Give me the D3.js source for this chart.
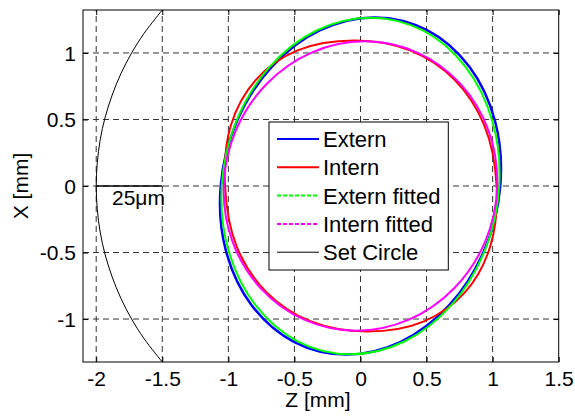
<!DOCTYPE html>
<html><head><meta charset="utf-8">
<script src="https://cdn.jsdelivr.net/npm/d3@7"></script>
<style>
html,body{margin:0;padding:0;background:#fff;}
text{font-family:"Liberation Sans",Arial,sans-serif;}
</style></head>
<body><svg id="c" width="575" height="418"></svg>
<script>
// ---- data ----
const xTicks = [-2, -1.5, -1, -0.5, 0, 0.5, 1, 1.5];
const xTickLabels = ["-2", "-1.5", "-1", "-0.5", "0", "0.5", "1", "1.5"];
const yTicks = [-1, -0.5, 0, 0.5, 1];
const yTickLabels = ["-1", "-0.5", "0", "0.5", "1"];
const seriesNames = ["Extern", "Intern", "Extern fitted", "Intern fitted", "Set Circle"];
// [Z, X] points
const externPts = [[1.058,0],[1.019,0.485],[0.824,0.896],[0.504,1.171],[0.108,1.267],[-0.305,1.171],[-0.672,0.896],[-0.936,0.485],[-1.058,0],[-1.019,-0.485],[-0.824,-0.896],[-0.504,-1.171],[-0.108,-1.267],[0.305,-1.171],[0.672,-0.896],[0.936,-0.485]];
const internPts = [[1.03,0],[0.936,0.457],[0.712,0.798],[0.379,1.017],[-0.04,1.093],[-0.481,1.017],[-0.792,0.798],[-0.981,0.457],[-1.025,0],[-0.936,-0.457],[-0.712,-0.798],[-0.379,-1.017],[0.05,-1.093],[0.481,-1.017],[0.792,-0.798],[0.981,-0.457]];
const externFitPts = [[1.05,0],[0.999,0.484],[0.796,0.894],[0.472,1.169],[0.076,1.265],[-0.332,1.169],[-0.689,0.894],[-0.941,0.484],[-1.05,0],[-0.999,-0.484],[-0.796,-0.894],[-0.472,-1.169],[-0.076,-1.265],[0.332,-1.169],[0.689,-0.894],[0.941,-0.484]];
const internFitPts = [[1.035,0],[0.969,0.416],[0.755,0.769],[0.426,1.005],[0.033,1.088],[-0.366,1.005],[-0.709,0.769],[-0.944,0.416],[-1.035,0],[-0.969,-0.416],[-0.755,-0.769],[-0.426,-1.005],[-0.033,-1.088],[0.366,-1.005],[0.709,-0.769],[0.944,-0.416]];
const setCirclePts = [[-1.5,1.323],[-1.638,1.147],[-1.732,1.0],[-1.813,0.845],[-1.879,0.684],[-1.932,0.518],[-1.970,0.347],[-1.992,0.174],[-2,0],[-1.992,-0.174],[-1.970,-0.347],[-1.932,-0.518],[-1.879,-0.684],[-1.813,-0.845],[-1.732,-1.0],[-1.638,-1.147],[-1.5,-1.323]];
const scaleBar = [[-2,0],[-1.5,0]];
const scaleLabel = "25\u03bcm";

// ---- layout ----
const L = 83, R = 558.7, T = 10, B = 362;
const svg = d3.select("#c");
const x = d3.scaleLinear().domain([-2.1, 1.5]).range([L, R]);
const y = d3.scaleLinear().domain([-1.3229, 1.3229]).range([B, T]);

svg.append("defs").append("clipPath").attr("id","clip")
  .append("rect").attr("x",L).attr("y",T).attr("width",R-L).attr("height",B-T);

// grid
const grid = svg.append("g").attr("stroke","#333").attr("stroke-width",1).attr("stroke-dasharray","6,4");
grid.selectAll("line.vx").data(xTicks.filter(d=>d>-2.1 && d<1.5)).enter().append("line")
  .attr("x1",d=>x(d)).attr("x2",d=>x(d)).attr("y1",B).attr("y2",T);
grid.selectAll("line.hy").data(yTicks).enter().append("line")
  .attr("y1",d=>y(d)).attr("y2",d=>y(d)).attr("x1",L).attr("x2",R);

// axes (ticks inward)
const fs = 21;
const ax = svg.append("g").attr("transform",`translate(0,${B})`)
  .call(d3.axisBottom(x).tickValues(xTicks).tickSize(-5).tickPadding(9).tickFormat((d,i)=>xTickLabels[i]));
const axT = svg.append("g").attr("transform",`translate(0,${T})`)
  .call(d3.axisTop(x).tickValues(xTicks).tickSize(-5).tickFormat(""));
const ay = svg.append("g").attr("transform",`translate(${L},0)`)
  .call(d3.axisLeft(y).tickValues(yTicks).tickSize(-5).tickPadding(7).tickFormat((d,i)=>yTickLabels[i]));
const ayR = svg.append("g").attr("transform",`translate(${R},0)`)
  .call(d3.axisRight(y).tickValues(yTicks).tickSize(-5).tickFormat(""));
[ax,axT,ay,ayR].forEach(g=>{
  g.select(".domain").remove();
  g.selectAll(".tick line").attr("stroke","#000");
  g.selectAll("text").attr("font-size",fs).attr("fill","#000").style("font-family","'Liberation Sans',Arial,sans-serif");
});
ay.selectAll("text").attr("dy","0.35em");

// curves
const line = d3.line().x(d=>x(d[0])).y(d=>y(d[1]));
const closed = d3.line().x(d=>x(d[0])).y(d=>y(d[1])).curve(d3.curveCatmullRomClosed.alpha(0.5));
const plot = svg.append("g").attr("clip-path","url(#clip)").attr("fill","none");
plot.append("path").attr("d",closed(externPts)).attr("stroke","#0000ff").attr("stroke-width",2.5);
plot.append("path").attr("d",closed(internPts)).attr("stroke","#ff0000").attr("stroke-width",2);
plot.append("path").attr("d",closed(externFitPts)).attr("stroke","#00ff00").attr("stroke-width",2);
plot.append("path").attr("d",closed(internFitPts)).attr("stroke","#ff00ff").attr("stroke-width",2);
plot.append("path").attr("d",d3.line().x(d=>x(d[0])).y(d=>y(d[1])).curve(d3.curveCatmullRom.alpha(0.5))(setCirclePts)).attr("stroke","#000").attr("stroke-width",1);
plot.append("path").attr("d",line(scaleBar)).attr("stroke","#000").attr("stroke-width",1.5);

svg.append("text").attr("x",112).attr("y",205).attr("font-size",fs).text(scaleLabel);

// frame
svg.append("rect").attr("x",L).attr("y",T).attr("width",R-L).attr("height",B-T)
  .attr("fill","none").attr("stroke","#000").attr("stroke-width",1);

// axis labels
svg.append("text").attr("x",318).attr("y",407).attr("text-anchor","middle").attr("font-size",fs).text("Z [mm]");
svg.append("text").attr("transform","translate(28,186) rotate(-90)").attr("text-anchor","middle").attr("font-size",fs).text("X [mm]");

// legend
const lg = svg.append("g");
lg.append("rect").attr("x",269).attr("y",122).attr("width",179.3).attr("height",148).attr("fill","#fff").attr("stroke","#000").attr("stroke-width",1);
const lStyles = [
  {c:"#0000ff", w:2, dash:null},
  {c:"#ff0000", w:2, dash:null},
  {c:"#00ff00", w:2, dash:"4,2"},
  {c:"#ff00ff", w:2, dash:"4,2"},
  {c:"#000", w:1, dash:null}
];
seriesNames.forEach((n,i)=>{
  const yy = 139 + i*28.3;
  lg.append("line").attr("x1",277).attr("x2",319).attr("y1",yy).attr("y2",yy)
    .attr("stroke",lStyles[i].c).attr("stroke-width",lStyles[i].w).attr("stroke-dasharray",lStyles[i].dash);
  lg.append("text").attr("x",323).attr("y",yy+8).attr("font-size",22).text(n);
});
</script></body></html>
